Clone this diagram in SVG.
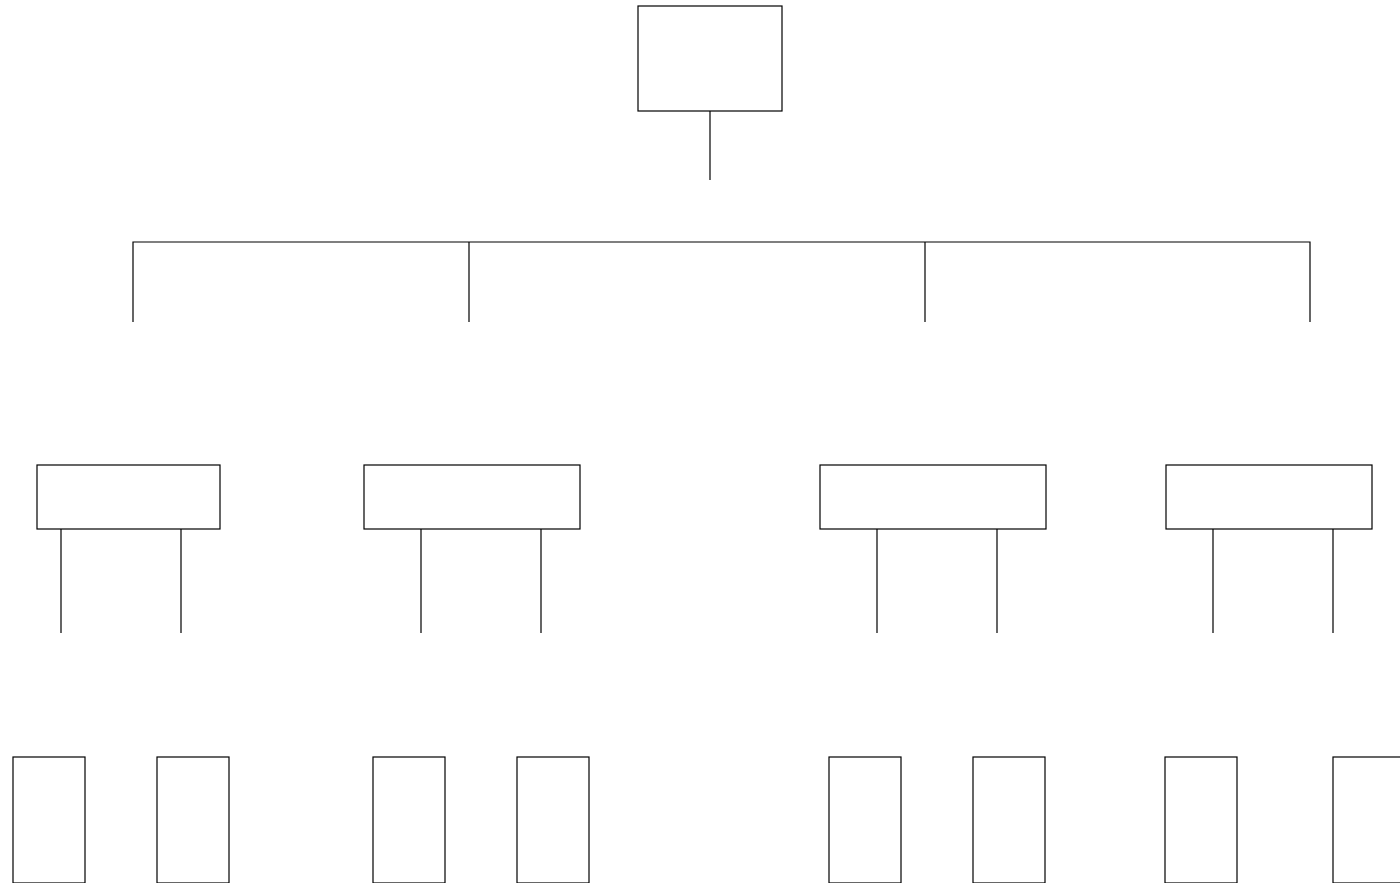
<svg xmlns="http://www.w3.org/2000/svg" width="1400" height="883" viewBox="0 0 1400 883">
<style>
.n{fill:#fff;stroke:#000;stroke-width:1.2}
.c{fill:none;stroke:#000;stroke-width:1.2}
</style>
<rect width="1400" height="883" fill="#fff"/>
<g id="connectors">
<path class="c" d="M710 111V180"/>
<path class="c" d="M133 322V242H1310V322M469 242V322M925 242V322"/>
<path class="c" d="M61 529V633M181 529V633M421 529V633M541 529V633M877 529V633M997 529V633M1213 529V633M1333 529V633"/>
</g>
<g id="root"><rect class="n" x="638" y="6" width="144" height="105"/></g>
<g id="b1"><rect class="n" x="37" y="465" width="183" height="64"/></g>
<g id="b2"><rect class="n" x="364" y="465" width="216" height="64"/></g>
<g id="b3"><rect class="n" x="820" y="465" width="226" height="64"/></g>
<g id="b4"><rect class="n" x="1166" y="465" width="206" height="64"/></g>
<g id="l1"><rect class="n" x="13" y="757" width="72" height="126"/></g>
<g id="l2"><rect class="n" x="157" y="757" width="72" height="126"/></g>
<g id="l3"><rect class="n" x="373" y="757" width="72" height="126"/></g>
<g id="l4"><rect class="n" x="517" y="757" width="72" height="126"/></g>
<g id="l5"><rect class="n" x="829" y="757" width="72" height="126"/></g>
<g id="l6"><rect class="n" x="973" y="757" width="72" height="126"/></g>
<g id="l7"><rect class="n" x="1165" y="757" width="72" height="126"/></g>
<g id="l8"><rect class="n" x="1333" y="757" width="72" height="126"/></g>
</svg>
